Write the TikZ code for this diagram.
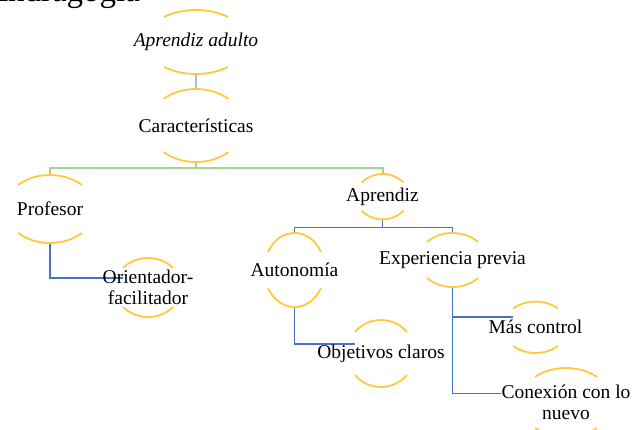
\documentclass[tikz,border=0pt]{standalone}
\usepackage{fontspec}
\setmainfont{Liberation Serif}
\usepackage{tikz}
\usetikzlibrary{backgrounds}

\definecolor{rimyellow}{HTML}{FFC83D}
\definecolor{linkblue}{HTML}{4472C4}
\definecolor{topblue}{HTML}{9DC3E6}
\definecolor{branchgreen}{HTML}{A9D18E}

\tikzset{
  rim/.style={draw=rimyellow, line width=1.8pt},
  txt/.style={font=\fontsize{19.5}{21}\selectfont, align=center, inner sep=0pt},
  link/.style={draw=linkblue, line width=1.6pt},
  branch/.style={draw=branchgreen, line width=2pt}
}

% name, x, y, half width, half height, sagitta, text
\newcommand{\hub}[7]{%
  \node[inner sep=0pt, minimum width=2*#4, minimum height=2*#5] (#1) at (#2,#3) {};
  \node[txt] (#1-t) at (#1.center) {#7};
  \pgfmathsetmacro\rimang{asin((#5-#6)/#5)}
  \pgfmathsetmacro\rimrx{#4/cos(\rimang)}
  \draw[rim] (#1.center) ++({\rimang}:{\rimrx} and {#5})
    arc[start angle=\rimang, end angle=180-\rimang, x radius=\rimrx, y radius=#5];
  \draw[rim] (#1.center) ++({-\rimang}:{\rimrx} and {#5})
    arc[start angle=-\rimang, end angle=-180+\rimang, x radius=\rimrx, y radius=#5];
}

\begin{document}
\begin{tikzpicture}[yscale=-1, x=1pt, y=1pt]
  \useasboundingbox (0,0) rectangle (640,430);
  \node[font=\fontsize{33}{36}\selectfont, anchor=base west, inner sep=0pt] (title) at (-16,2) {Andragogía};

  \hub{adulto}{196}{42}{32}{32}{7}{\textit{Aprendiz adulto}}
  \hub{caract}{196}{125.5}{32.5}{36.5}{10}{Características}
  \hub{profe}{50}{209}{32}{34}{10}{Profesor}
  \hub{aprend}{382.5}{196.7}{20.8}{22.7}{8.7}{Aprendiz}
  \hub{orient}{148}{287.5}{25}{29.5}{10}{Orientador-\\facilitador}
  \hub{auton}{294.5}{270}{26.5}{37}{19}{Autonomía}
  \hub{exper}{452.5}{260}{25.5}{27}{9}{Experiencia previa}
  \hub{objet}{381}{353.5}{26}{33.5}{12}{Objetivos claros}
  \hub{masc}{535.5}{327.3}{22.5}{25.7}{7}{Más control}
  \hub{conex}{566}{402.5}{31}{34.5}{9}{Conexión con lo\\nuevo}

  \begin{scope}[on background layer]
    \draw[draw=topblue, line width=1.6pt] (adulto.south) -- (caract.north);
    \draw[branch] (caract.south) -- ++(0,5.5) -| (profe.north);
    \draw[branch] (caract.south) -- ++(0,5.5) -| (aprend.north);
    \draw[link] (profe.south) |- ([yshift=-9.5pt]orient.west);
    \draw[link] (aprend.south) -- ++(0,8) -| (auton.north);
    \draw[link] (aprend.south) -- ++(0,8) -| (exper.north);
    \draw[link] (auton.south) |- ([yshift=-9.5pt]objet.west);
    \draw[link] (exper.south) |- ([yshift=-10pt]masc.west);
    \draw[link] (exper.south) |- ([xshift=-34pt,yshift=-9pt]conex.west);
  \end{scope}
\end{tikzpicture}
\end{document}
